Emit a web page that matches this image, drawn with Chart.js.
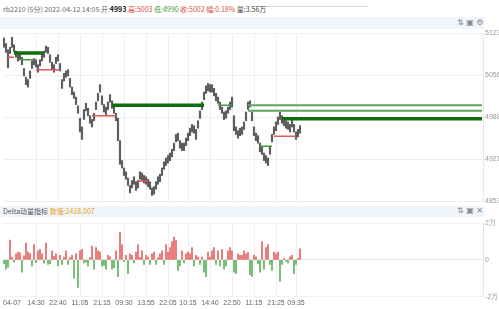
<!DOCTYPE html>
<html><head><meta charset="utf-8">
<script src="https://cdn.jsdelivr.net/npm/chart.js@4.4.0/dist/chart.umd.min.js"></script>
<style>
html,body{margin:0;padding:0;width:499px;height:309px;overflow:hidden;background:#fff;font-family:"Noto Sans CJK SC","Noto Sans",sans-serif;}
.abs{position:absolute;}
#hdr{left:3px;top:4px;font-size:7px;color:#666;white-space:nowrap;line-height:10px;}
#hdr b{color:#222;font-weight:bold;}
.r{color:#e04a4a;} .g{color:#3a9a3a;}
#strip1{left:0;top:17px;width:484px;height:12px;background:#eef5fb;}
#strip2{left:0;top:206px;width:484px;height:11px;background:#eef5fb;}
#dlt{left:3px;top:206px;font-size:7px;color:#555;line-height:11px;white-space:nowrap;}
#dlt span{color:#e8a317;}
.ic{font-size:8px;color:#888;line-height:12px;font-family:"DejaVu Sans",sans-serif;}
#tabline{left:250px;top:6px;width:118px;height:1px;background:#ddd;}
#main{left:0;top:24px;}
#delta{left:0;top:217px;}
</style>
</head><body>
<div id="tabline" class="abs"></div>
<div id="hdr" class="abs">rb2210 (5分) 2022-04-12 14:05 开:<b>4993</b> <span class="r">高:5003</span> <span class="g">低:4990</span> <span class="r">收:5002</span> <span class="r">幅:0.18%</span> <span style="color:#444">量:3.56万</span></div>
<div id="strip1" class="abs"></div>
<div class="abs ic" style="left:457px;top:17px;">⇅ ▣ ⚙</div>
<div id="strip2" class="abs"></div>
<div id="dlt" class="abs">Delta动量指标 <span>数值:2418.007</span></div>
<div class="abs ic" style="left:457px;top:205px;">⇅ ▣ ✕</div>
<canvas id="main" class="abs" width="499" height="184"></canvas>
<canvas id="delta" class="abs" width="499" height="92"></canvas>
<script>
// ---- data ----
const tickLabels = ['04-07','14:30','22:40','11:05','21:15','09:30','13:55','22:05','10:15','14:40','22:50','11:15','21:25','09:35'];
const tickIndex = [4,16,27,38,49,60,71,82,92,103,114,125,136,146];
const priceTicks = [4853, 4920.5, 4988, 5055.5, 5123];
const deltaTicks = [-20000, 0, 20000];

const highs = [5115,5106,5096,5100,5116,5104,5094,5088,5090,5084,
 5066,5052,5048,5062,5078,5082,5080,5072,5080,5088,
 5094,5102,5100,5088,5076,5072,5084,5088,5074,5048,
 5058,5062,5064,5050,5036,5028,5020,5006,4986,4972,
 5000,5010,5002,4990,4984,4994,5012,5026,5040,5022,
 5008,5004,5012,5024,5014,5004,4994,4986,4950,4918,
 4906,4900,4890,4878,4886,4892,4884,4886,4900,4898,
 4894,4892,4888,4884,4874,4876,4884,4892,4896,4906,
 4916,4922,4926,4930,4936,4946,4960,4962,4950,4946,
 4946,4954,4962,4970,4976,4974,4968,4982,4998,5012,
 5028,5038,5042,5040,5040,5034,5026,5020,5012,5004,
 4996,4998,5004,5012,5020,4990,4972,4966,4970,4972,
 4980,4996,5012,5014,4996,4972,4962,4958,4946,4940,
 4930,4926,4922,4940,4960,4972,4980,4988,4996,4990,
 4986,4982,4980,4976,4984,4976,4964,4968,4974];
const lows = [5100,5092,5067,5090,5100,5093,5084,5078,5080,5072,
 5054,5040,5036,5050,5066,5072,5068,5060,5070,5078,
 5084,5092,5090,5076,5064,5060,5074,5078,5062,5034,
 5046,5052,5054,5036,5024,5018,5008,4994,4964,4952,
 4984,4998,4990,4978,4972,4982,5000,5014,5028,5008,
 4996,4992,5000,5012,5002,4994,4982,4950,4912,4906,
 4894,4888,4878,4866,4874,4880,4870,4874,4888,4886,
 4882,4880,4876,4872,4862,4864,4872,4880,4884,4894,
 4904,4910,4914,4918,4924,4934,4948,4950,4938,4934,
 4934,4942,4950,4958,4964,4962,4952,4970,4986,5000,
 5016,5026,5030,5028,5028,5022,5014,5010,5000,4994,
 4984,4986,4994,5000,5004,4966,4960,4954,4958,4960,
 4968,4982,5000,5004,4982,4958,4950,4946,4932,4928,
 4918,4914,4910,4928,4948,4960,4966,4976,4984,4978,
 4974,4970,4968,4964,4972,4964,4952,4956,4962];
const delta = [-2000,-5000,-4000,10800,1500,-1200,3300,4200,3800,-6700,
 2200,9200,4200,3500,-3300,8300,-1500,5000,5800,3300,
 -1800,9200,-2500,-2000,5000,2000,3300,-3300,2500,-2500,
 1500,5000,-2500,1200,2500,-10000,3300,-15000,5000,5800,
 -1700,-1200,-3300,1200,7500,-5000,6700,5000,4200,-3300,
 -3000,-5000,2500,1700,-5000,-4200,5000,-9200,15000,8300,
 -800,2500,-7500,3300,2500,-1700,4200,8300,1200,5000,
 -2500,2500,1500,-2500,3300,4200,-2500,1200,3300,5000,
 -2500,8300,4200,6700,10000,12500,10800,-5800,-3300,5000,
 -1700,3300,4200,3300,6700,-3300,2500,1500,-2500,1700,
 -6700,-9200,4200,1500,5000,6700,-2500,5000,-3300,5800,
 -5000,-3300,5000,6700,5000,-6700,-7500,3300,2500,2500,
 5000,3300,4200,-8000,-9000,2500,1700,-2000,-6700,10000,
 -5000,6700,8300,-2500,-5800,4200,3300,4200,-11700,-2500,
 800,-800,-1700,1700,2500,-7500,-2500,800,6000];

// support / resistance levels (price, first bar, last bar, kind)
const levelPrice = [5091, 5080, 5084, 5064, 4990, 5007, 4885, 5007, 5007, 4998, 4985, 4941, 4957];
const levelFrom  = [5, 8, 2, 16, 44, 54, 67, 107, 122, 122, 139, 128, 135];
const levelTo    = [20, 15, 5, 28, 56, 100, 72, 114, 239, 239, 239, 134, 146];
const levelKind  = ['strong','buy','sell','sell','sell','strong','sell','buy','mid','mid','strong','buy','sell'];
const slotCount = 240;

// ---- build ----
const labels = Array.from({length: slotCount}, (_, k) => { const p = tickIndex.indexOf(k); return p >= 0 ? tickLabels[p] : ''; });
const levelStyle = { strong:{c:'#0f6e0f', w:3.5}, mid:{c:'#5fa55f', w:2}, buy:{c:'#3f9f3f', w:1.5}, sell:{c:'#e05555', w:1.5} };
const levelDatasets = levelPrice.map((p, k) => ({
  type: 'line',
  data: labels.map((_, s) => (s >= levelFrom[k] && s <= levelTo[k]) ? p : null),
  borderColor: levelStyle[levelKind[k]].c,
  borderWidth: levelStyle[levelKind[k]].w,
  pointRadius: 0, spanGaps: false, order: 1
}));
const xTicksFilter = s => { s.ticks = tickIndex.map(v => ({value: v})); };
const gridCol = c => (c.index === 0 ? 'rgba(0,0,0,0)' : '#efefef');
const fixW = s => { s.width = 16; };

new Chart(document.getElementById('main'), {
  type: 'bar',
  data: { labels, datasets: [
    ...levelDatasets,
    { type: 'bar', data: highs.map((h, k) => [lows[k], h]), backgroundColor: '#5e5e5e', barThickness: 1.5, order: 2 }
  ]},
  options: {
    animation: false, responsive: false, maintainAspectRatio: false,
    layout: { padding: { top: 9, bottom: 7, left: 3, right: 0 } },
    plugins: { legend: { display: false }, tooltip: { enabled: false } },
    scales: {
      x: { offset: true, afterBuildTicks: xTicksFilter,
           grid: { offset: false, color: gridCol, drawTicks: false },
           ticks: { display: false }, border: { display: false } },
      y: { position: 'right', min: 4853, max: 5123,
           afterBuildTicks: s => { s.ticks = priceTicks.map(v => ({value: v})); },
           ticks: { callback: v => Math.round(v), font: { size: 7 }, color: '#999', padding: 2 },
           grid: { color: '#efefef', drawTicks: false }, border: { display: true, color: '#e8e8e8' },
           afterFit: fixW }
    }
  }
});

new Chart(document.getElementById('delta'), {
  type: 'bar',
  data: { labels, datasets: [
    { data: delta, backgroundColor: delta.map(v => v >= 0 ? '#e46464' : '#5cb25c'), barThickness: 1 }
  ]},
  options: {
    animation: false, responsive: false, maintainAspectRatio: false,
    layout: { padding: { top: 4, bottom: 0, left: 3, right: 0 } },
    plugins: { legend: { display: false }, tooltip: { enabled: false } },
    scales: {
      x: { offset: true, afterBuildTicks: xTicksFilter,
           grid: { offset: false, color: gridCol, drawTicks: false },
           ticks: { autoSkip: false, maxRotation: 0, font: { size: 7 }, color: '#666', padding: 2 },
           border: { display: false } },
      y: { position: 'right', min: -20000, max: 20000,
           afterBuildTicks: s => { s.ticks = deltaTicks.map(v => ({value: v})); },
           ticks: { callback: v => v === 0 ? '0' : (v / 10000) + '万', font: { size: 7 }, color: '#999', padding: 2 },
           grid: { color: c => c.tick && c.tick.value === 0 ? '#e6e6e6' : '#f2f2f2', drawTicks: false },
           border: { display: true, color: '#e8e8e8' }, afterFit: fixW }
    }
  }
});
</script>
</body></html>
